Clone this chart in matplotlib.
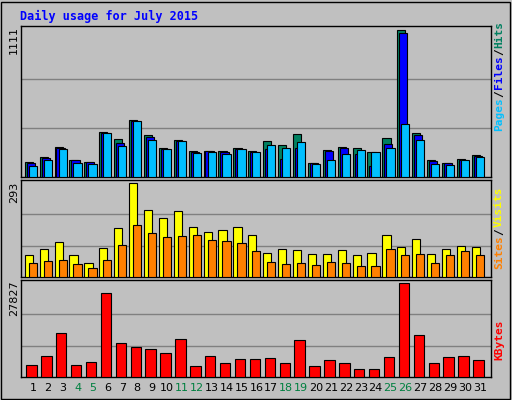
import matplotlib
matplotlib.use("Agg")
import matplotlib.pyplot as plt
from matplotlib.patches import Rectangle

days = list(range(1, 32))
hits = [116,153,227,131,116,338,287,435,316,220,279,198,198,198,220,198,272,242,324,109,205,227,220,190,294,1111,331,131,109,138,168]
files = [109,146,222,131,111,333,257,427,304,215,274,190,198,193,215,193,215,138,220,106,198,220,175,86,249,1089,316,124,106,131,161]
pages = [86,131,212,109,101,331,235,427,279,212,272,183,190,175,212,190,242,220,264,101,131,175,205,190,220,405,279,101,94,131,153]
visits = [67,86,108,70,45,89,153,293,210,185,204,156,140,147,156,131,76,86,83,73,73,83,70,76,131,92,118,73,86,96,92]
sites = [45,51,54,41,29,54,99,162,137,124,127,131,115,112,105,80,48,41,45,38,48,45,35,35,86,70,73,45,67,80,67]
kbytes = [3660,6100,13100,3660,4570,24690,10060,8840,8230,7010,11280,3350,6100,4270,5180,5180,5490,4270,10970,3350,4880,4270,2440,2440,5790,27827,12500,4270,5790,6100,4880]
weekend = {4,5,11,12,18,19,25,26}

W, H = 512, 400
fig = plt.figure(figsize=(W/100, H/100), dpi=100)
fig.patch.set_facecolor('#C0C0C0')
mono = 'DejaVu Sans Mono'
# outer border
fig.add_artist(Rectangle((1/W, 1/H), 509/W, 397/H, transform=fig.transFigure, fill=False, ec='black', lw=1))
fig.text(20/W, 1-16/H, 'Daily usage for July 2015', color='#0000FF', fontsize=8.5, fontweight='bold', family=mono, va='center')

XL = (0.2, 31.74)
def panel(top, bot):
    ax = fig.add_axes([21/W, 1-bot/H, 470/W, (bot-top)/H])
    ax.set_facecolor('#C0C0C0')
    ax.set_xlim(*XL)
    ax.set_xticks([]); ax.set_yticks([])
    for s in ax.spines.values():
        s.set_color('black'); s.set_linewidth(1)
    return ax

def bars(ax, vals, off, w, color):
    ax.bar([d+off for d in days], vals, width=w, align='edge', color=color, edgecolor='black', linewidth=0.8, zorder=3)

ax1 = panel(26, 177)
ax1.set_ylim(0, 1111*1.03)
for g in [1111/3, 2*1111/3]:
    ax1.axhline(g*1.03*0+g*1.0, color='#808080', lw=1, zorder=1)
bars(ax1, hits, -0.55, 0.55, '#008060')
bars(ax1, files, -0.42, 0.55, '#0000FF')
bars(ax1, pages, -0.28, 0.55, '#00BFFF')

ax2 = panel(180, 277)
ax2.set_ylim(0, 293*1.03)
for g in [293/3, 2*293/3]:
    ax2.axhline(g, color='#808080', lw=1, zorder=1)
bars(ax2, visits, -0.55, 0.55, '#FFFF00')
bars(ax2, sites, -0.28, 0.55, '#FF8000')

ax3 = panel(280, 377)
ax3.set_ylim(0, 27827*1.03)
for g in [27827/3, 2*27827/3]:
    ax3.axhline(g, color='#808080', lw=1, zorder=1)
bars(ax3, kbytes, -0.45, 0.7, '#FF0000')

for d in days:
    x = 21/W + (d - XL[0]) / (XL[1]-XL[0]) * 470/W
    fig.text(x, 1-388/H, str(d), ha='center', va='center', fontsize=8, family='DejaVu Sans',
             color='#008040' if d in weekend else 'black')

for y, s in [(40, '1111'), (192, '293'), (298, '27827')]:
    fig.text(14/W, 1-y/H, s, rotation=90, ha='center', va='center', fontsize=8, family='DejaVu Sans')

def rlabel(yc, parts):
    total = sum(len(p[0]) for p in parts)
    ch = 7.0
    y = yc + total*ch/2
    for t, c in parts:
        n = len(t)
        fig.text(499/W, 1-(y - n*ch/2)/H, t, rotation=90, ha='center', va='center', color=c,
                 fontsize=8, family=mono, fontweight='bold')
        y -= n*ch

rlabel(76, [('Pages', '#00BFFF'), ('/', 'black'), ('Files', '#0000FF'), ('/', 'black'), ('Hits', '#008060')])
rlabel(228, [('Sites', '#FF8000'), ('/', 'black'), ('Visits', '#FFFF00')])
rlabel(340, [('KBytes', '#FF0000')])

fig.savefig('out.png', dpi=100, facecolor=fig.get_facecolor())
